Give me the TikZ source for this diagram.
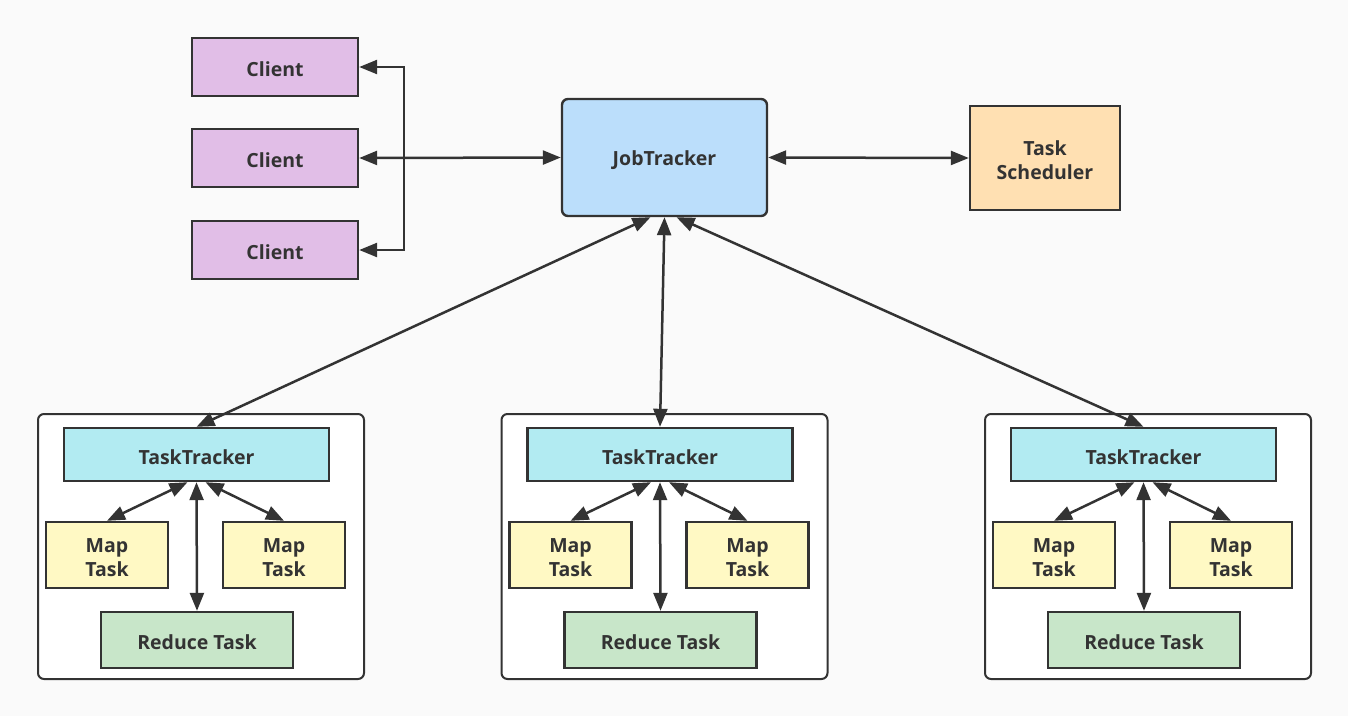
\documentclass[tikz,border=0pt]{standalone}
\usepackage{fontspec}
\setmainfont{Open Sans}
\usetikzlibrary{arrows.meta}
\definecolor{ink}{HTML}{333333}
\definecolor{bg}{HTML}{FAFAFA}
\definecolor{cli}{HTML}{E1BEE7}
\definecolor{jtc}{HTML}{BBDEFB}
\definecolor{tsc}{HTML}{FFE0B2}
\definecolor{ttc}{HTML}{B2EBF2}
\definecolor{mpc}{HTML}{FFF9C4}
\definecolor{rdc}{HTML}{C8E6C9}
\tikzset{
  box/.style={draw=ink, line width=2.4pt, inner sep=0pt},
  lab/.style={text=ink, font=\bfseries\fontsize{19.5}{24}\selectfont, align=center, inner sep=0pt, yshift=-2.5pt},
  grp/.style={draw=ink, line width=2pt, fill=white, rounded corners=6pt, inner sep=0pt},
  conn/.style={draw=ink, line width=2.5pt, {Triangle[length=18pt,width=14pt]}-{Triangle[length=18pt,width=14pt]}},
}
\begin{document}
\begin{tikzpicture}[x=1pt,y=-1pt]
\fill[bg] (0,0) rectangle (1348,716);
\useasboundingbox (0,0) rectangle (1348,716);
% clients
\node[box, fill=cli, minimum width=166pt, minimum height=58pt, label={[lab]center:Client}] (c1) at (275,67) {};
\node[box, fill=cli, minimum width=166pt, minimum height=58pt, label={[lab]center:Client}] (c2) at (275,158) {};
\node[box, fill=cli, minimum width=166pt, minimum height=58pt, label={[lab]center:Client}] (c3) at (275,250) {};
\node[box, fill=jtc, rounded corners=6pt, minimum width=205pt, minimum height=117pt, label={[lab]center:JobTracker}] (jt) at (664.5,157.5) {};
\node[box, fill=tsc, minimum width=150pt, minimum height=104pt, label={[lab]center:Task\\Scheduler}] (ts) at (1045,158) {};
\coordinate (b1) at (404,67);
\coordinate (b3) at (404,250);
\draw[conn] (c1.east) -- (b1) -- (b3) -- (c3.east);
\draw[conn] (c2.east) -- (jt.west);
\draw[conn] (jt.east) -- (ts.west);
% groups
\foreach \i/\o in {1/0,2/463.5,3/947}{
  \node[grp, minimum width=326pt, minimum height=265pt] (g\i) at (201+\o,546.5) {};
  \node[box, fill=ttc, minimum width=265pt, minimum height=53pt, label={[lab]center:TaskTracker}] (tt\i) at (196.5+\o,454.5) {};
  \node[box, fill=mpc, minimum width=122pt, minimum height=66pt, label={[lab]center:Map\\Task}] (ma\i) at (107+\o,555) {};
  \node[box, fill=mpc, minimum width=122pt, minimum height=66pt, label={[lab]center:Map\\Task}] (mb\i) at (284+\o,555) {};
  \node[box, fill=rdc, minimum width=192pt, minimum height=56pt, label={[lab]center:Reduce Task}] (rd\i) at (197+\o,640) {};
  \draw[conn] ([xshift=-9pt]tt\i.south) -- (ma\i.north);
  \draw[conn] (tt\i.south) -- (rd\i.north);
  \draw[conn] ([xshift=9pt]tt\i.south) -- (mb\i.north);
}
\draw[conn] ([xshift=-14pt]jt.south) -- (tt1.north);
\draw[conn] (jt.south) -- (tt2.north);
\draw[conn] ([xshift=12pt]jt.south) -- (tt3.north);
\end{tikzpicture}
\end{document}
